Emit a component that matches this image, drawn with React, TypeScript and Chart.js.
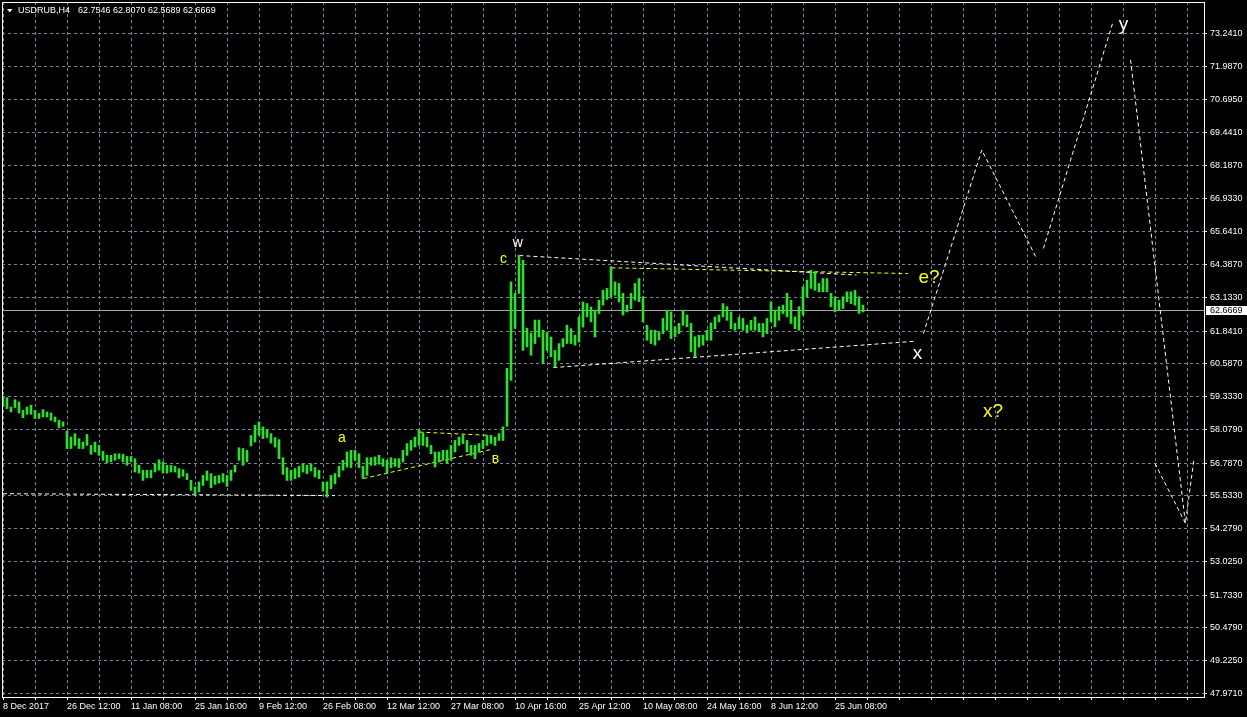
import React, { useEffect, useRef } from "react";
import { Chart, registerables } from "chart.js";

Chart.register(...registerables);

// ---------- data ----------
const symbolName = "USDRUB,H4";
const ohlcText = "62.7546 62.8070 62.5689 62.6669";
const lastClose = 62.6669;

const timeLabels = [
  "8 Dec 2017", "26 Dec 12:00", "11 Jan 08:00", "25 Jan 16:00", "9 Feb 12:00",
  "26 Feb 08:00", "12 Mar 12:00", "27 Mar 08:00", "10 Apr 16:00", "25 Apr 12:00",
  "10 May 08:00", "24 May 16:00", "8 Jun 12:00", "25 Jun 08:00",
];

const priceTicks = [
  73.241, 71.987, 70.695, 69.441, 68.187, 66.933, 65.641, 64.387, 63.133, 61.841,
  60.587, 59.333, 58.079, 56.787, 55.533, 54.279, 53.025, 51.733, 50.479, 49.225, 47.971,
];

const barHighs = [
  59.35, 59.30, 58.94, 59.22, 59.13, 58.81, 58.94, 59.01, 58.81, 58.69,
  58.84, 58.75, 58.71, 58.56, 58.43, 58.37, 58.02, 57.79, 57.92, 57.73,
  57.60, 57.89, 57.47, 57.60, 57.47, 57.24, 57.09, 57.09, 57.15, 57.15,
  57.13, 57.05, 57.05, 56.96, 56.71, 56.52, 56.52, 56.52, 56.77, 56.92,
  56.84, 56.71, 56.71, 56.67, 56.58, 56.54, 56.39, 56.13, 55.88, 56.07,
  56.32, 56.49, 56.39, 56.29, 56.32, 56.39, 56.32, 56.52, 56.71, 57.38,
  57.35, 57.28, 57.85, 58.24, 58.37, 58.18, 58.07, 57.92, 57.77, 57.69,
  57.00, 56.62, 56.52, 56.58, 56.67, 56.77, 56.71, 56.77, 56.62, 56.52,
  56.07, 56.07, 56.32, 56.39, 56.67, 56.90, 57.22, 57.28, 57.28, 57.15,
  56.67, 57.00, 57.00, 57.03, 57.09, 56.96, 56.90, 57.00, 56.96, 56.96,
  57.28, 57.54, 57.66, 57.79, 58.07, 57.95, 57.79, 57.47, 57.22, 57.22,
  57.28, 57.28, 57.47, 57.66, 57.79, 57.86, 57.66, 57.47, 57.47, 57.54,
  57.66, 57.86, 57.86, 57.79, 57.92, 58.18, 60.42, 63.73, 63.29, 64.75,
  64.56, 61.96, 61.77, 62.27, 62.27, 61.88, 61.81, 61.62, 61.11, 61.37,
  61.56, 62.07, 61.94, 61.69, 62.39, 62.96, 62.90, 62.77, 62.65, 63.03,
  63.41, 63.48, 64.31, 63.73, 63.67, 63.29, 62.84, 63.29, 63.67, 63.86,
  63.16, 62.07, 61.88, 61.88, 61.82, 62.33, 62.65, 62.58, 62.01, 62.14,
  62.65, 62.46, 62.14, 61.63, 61.69, 61.69, 61.88, 62.16, 62.39, 62.46,
  62.90, 62.78, 62.58, 62.14, 62.37, 62.33, 62.07, 62.26, 62.39, 62.14,
  62.14, 62.33, 62.97, 62.65, 62.78, 62.84, 63.29, 63.03, 62.39, 62.78,
  63.54, 63.80, 64.18, 64.12, 63.67, 63.86, 63.86, 63.29, 63.16, 63.03,
  63.16, 63.35, 63.35, 63.41, 63.16, 62.84,
];

const barLows = [
  58.97, 58.88, 58.75, 58.92, 58.71, 58.53, 58.66, 58.66, 58.50, 58.50,
  58.56, 58.56, 58.43, 58.37, 58.15, 58.20, 57.35, 57.35, 57.47, 57.35,
  57.35, 57.47, 57.13, 57.22, 57.09, 56.90, 56.80, 56.84, 56.90, 56.96,
  56.84, 56.71, 56.84, 56.45, 56.41, 56.13, 56.23, 56.23, 56.45, 56.52,
  56.41, 56.41, 56.45, 56.45, 56.23, 56.29, 56.16, 55.75, 55.60, 55.69,
  55.94, 56.13, 55.85, 55.98, 56.03, 56.07, 55.90, 56.13, 56.45, 56.90,
  56.71, 56.84, 57.45, 57.60, 57.86, 57.73, 57.77, 57.56, 57.41, 56.96,
  56.36, 56.13, 56.13, 56.20, 56.26, 56.45, 56.39, 56.49, 56.26, 56.20,
  55.72, 55.49, 55.81, 56.00, 56.26, 56.52, 56.64, 56.62, 56.90, 56.62,
  56.20, 56.32, 56.71, 56.71, 56.75, 56.67, 56.41, 56.62, 56.67, 56.62,
  56.83, 57.09, 57.28, 57.41, 57.47, 57.47, 57.41, 57.15, 56.64, 56.83,
  56.90, 56.77, 56.90, 57.22, 57.47, 57.54, 57.22, 57.09, 56.96, 57.22,
  57.35, 57.47, 57.54, 57.47, 57.66, 57.66, 58.20, 59.96, 61.95, 63.29,
  61.11, 61.24, 60.92, 61.37, 61.62, 60.60, 61.11, 60.86, 60.47, 60.73,
  61.24, 61.37, 61.37, 61.31, 61.43, 62.00, 62.39, 62.20, 61.62, 62.52,
  62.84, 63.06, 63.16, 63.22, 62.96, 62.46, 62.58, 62.71, 63.03, 62.97,
  62.20, 61.50, 61.37, 61.31, 61.50, 61.75, 61.88, 61.56, 61.63, 61.75,
  62.07, 62.01, 61.05, 60.86, 61.24, 61.31, 61.50, 61.50, 61.94, 62.20,
  62.39, 62.26, 61.94, 61.88, 61.94, 61.88, 61.78, 61.88, 61.88, 61.82,
  61.63, 61.75, 62.20, 62.01, 62.26, 62.52, 62.39, 62.14, 61.94, 61.88,
  62.46, 63.16, 63.48, 63.41, 63.35, 63.35, 63.35, 62.78, 62.58, 62.65,
  62.71, 62.97, 62.90, 62.84, 62.52, 62.58,
];

// trend / wave lines (x = bar number, y = price)
const supportLine = [{ x: 0, y: 55.62 }, { x: 83, y: 55.55 }];
const wedgeLower = [{ x: 90.1, y: 56.2 }, { x: 122.2, y: 57.32 }];
const wedgeUpper = [{ x: 104.1, y: 57.98 }, { x: 120.9, y: 57.86 }];
const triangleTop = [{ x: 129.1, y: 64.74 }, { x: 213.4, y: 63.99 }];
const eLine = [{ x: 152.1, y: 64.27 }, { x: 226.25, y: 64.05 }];
const triangleBottom = [{ x: 137.6, y: 60.45 }, { x: 228.25, y: 61.46 }];
const projection1 = [{ x: 230.1, y: 61.75 }, { x: 244.7, y: 68.78 }, { x: 258.4, y: 64.63 }];
const projection2 = [{ x: 260.1, y: 65.01 }, { x: 277.4, y: 73.63 }];
const projection3 = [{ x: 281.9, y: 72.23 }, { x: 295.6, y: 54.49 }];
const projection4 = [{ x: 288, y: 56.78 }, { x: 295.6, y: 54.49 }, { x: 297.75, y: 56.96 }];

// wave labels (x = bar number, y = price at text baseline)
const waveText = ["w", "c", "a", "в", "e?", "x", "x?", "y"];
const waveX = [128.7, 125.1, 84.7, 123.1, 231.5, 228.6, 247.5, 280.1];
const waveY = [65.05, 64.46, 57.59, 56.78, 63.68, 60.77, 58.57, 73.37];
const waveKind = ["wMinor", "yMinor", "yMinor", "yMinor", "yMajor", "wMajor", "yMajor", "wMajor"];

// ---------- styles ----------
const FONT = "'Liberation Sans', Arial, sans-serif";
const NARROW = "'Liberation Sans Narrow', 'Arial Narrow', 'Liberation Sans', sans-serif";
const BAR_COLOR = "#32dc32";
const GRID_COLOR = "#778899";
const PRICE_LINE = "#a8a8a8";
const labelStyles: Record<string, { color: string; size: number }> = {
  wMinor: { color: "#ffffff", size: 14 },
  yMinor: { color: "#ffff00", size: 14 },
  wMajor: { color: "#ffffff", size: 19 },
  yMajor: { color: "#ffff00", size: 19 },
};

const X_MIN = -0.25;
const X_MAX = 300.25;
const Y_MIN = 47.837;
const Y_MAX = 74.447;

const lineDs = (pts: { x: number; y: number }[], color: string) => ({
  type: "line" as const,
  data: pts,
  borderColor: color,
  borderWidth: 1,
  borderDash: [4, 3],
  pointRadius: 0,
  fill: false,
  tension: 0,
});

const overlayPlugin = {
  id: "mt4Overlay",
  beforeDatasetsDraw(chart: any) {
    const { ctx, chartArea, scales } = chart;
    const py = Math.round(scales.y.getPixelForValue(lastClose)) + 0.5;
    ctx.save();
    ctx.strokeStyle = PRICE_LINE;
    ctx.lineWidth = 1;
    ctx.beginPath();
    ctx.moveTo(chartArea.left, py);
    ctx.lineTo(chartArea.right, py);
    ctx.stroke();
    ctx.restore();
  },
  afterDatasetsDraw(chart: any) {
    const { ctx, scales } = chart;
    ctx.save();
    ctx.textAlign = "center";
    ctx.textBaseline = "alphabetic";
    waveText.forEach((t, i) => {
      const st = labelStyles[waveKind[i]];
      ctx.fillStyle = st.color;
      ctx.font = `${st.size}px ${NARROW}`;
      ctx.fillText(t, scales.x.getPixelForValue(waveX[i]), scales.y.getPixelForValue(waveY[i]));
    });
    ctx.restore();
  },
  afterDraw(chart: any) {
    const { ctx, chartArea, scales, width } = chart;
    ctx.save();
    // frame left and top
    ctx.strokeStyle = "#ffffff";
    ctx.lineWidth = 1;
    ctx.beginPath();
    ctx.moveTo(chartArea.left + 0.5, chartArea.bottom);
    ctx.lineTo(chartArea.left + 0.5, chartArea.top + 0.5);
    ctx.lineTo(chartArea.right, chartArea.top + 0.5);
    ctx.stroke();
    // header
    ctx.fillStyle = "#ffffff";
    ctx.beginPath();
    ctx.moveTo(7, 9);
    ctx.lineTo(12.5, 9);
    ctx.lineTo(9.75, 12.5);
    ctx.closePath();
    ctx.fill();
    ctx.font = `9px ${FONT}`;
    ctx.textBaseline = "middle";
    ctx.textAlign = "left";
    ctx.fillText(symbolName, 18, 11);
    ctx.fillText(ohlcText, 78, 11);
    // current price box
    const py = Math.round(scales.y.getPixelForValue(lastClose));
    ctx.fillStyle = "#ffffff";
    ctx.fillRect(chartArea.right + 2, py - 4, width - chartArea.right - 2, 9);
    ctx.fillStyle = "#000000";
    ctx.fillText(lastClose.toFixed(4), chartArea.right + 6, py + 0.5);
    ctx.restore();
  },
};

export default function App() {
  const ref = useRef<HTMLCanvasElement | null>(null);

  useEffect(() => {
    if (!ref.current) return;
    const gridValues: number[] = [];
    for (let v = 0; v <= 296; v += 8) gridValues.push(v);

    const chart = new Chart(ref.current, {
      type: "bar",
      data: {
        datasets: [
          {
            type: "bar",
            data: barHighs.map((h, i) => ({ x: i, y: [barLows[i], h] })) as any,
            backgroundColor: BAR_COLOR,
            borderWidth: 0,
            barThickness: 2,
            grouped: false,
          } as any,
          lineDs(supportLine, "#ffffff"),
          lineDs(wedgeLower, "#ffff00"),
          lineDs(wedgeUpper, "#ffff00"),
          lineDs(triangleTop, "#ffffff"),
          lineDs(eLine, "#ffff00"),
          lineDs(triangleBottom, "#ffffff"),
          lineDs(projection1, "#ffffff"),
          lineDs(projection2, "#ffffff"),
          lineDs(projection3, "#ffffff"),
          lineDs(projection4, "#ffffff"),
        ],
      },
      options: {
        responsive: false,
        animation: false,
        events: [],
        layout: { padding: { left: 2, top: 2, right: 0, bottom: 0 } },
        plugins: { legend: { display: false }, tooltip: { enabled: false } },
        scales: {
          x: {
            type: "linear",
            min: X_MIN,
            max: X_MAX,
            offset: false,
            afterBuildTicks: (s: any) => {
              s.ticks = gridValues.map((v) => ({ value: v }));
            },
            afterFit: (s: any) => {
              s.height = 20;
              s.paddingLeft = 0;
              s.paddingRight = 0;
            },
            grid: { color: GRID_COLOR, offset: false, tickColor: "#ffffff", tickLength: 3, lineWidth: 1 },
            border: { color: "#ffffff", dash: [3, 3], width: 1 },
            ticks: {
              color: "#ffffff",
              font: { family: FONT, size: 9 },
              align: "start",
              padding: 1,
              maxRotation: 0,
              autoSkip: false,
              callback: (v: any) => {
                const n = Number(v);
                return n % 16 === 0 && timeLabels[n / 16] ? timeLabels[n / 16] : "";
              },
            },
          },
          y: {
            type: "linear",
            position: "right",
            min: Y_MIN,
            max: Y_MAX,
            afterBuildTicks: (s: any) => {
              s.ticks = priceTicks.map((v) => ({ value: v }));
            },
            afterFit: (s: any) => {
              s.width = 43;
              s.paddingTop = 0;
              s.paddingBottom = 0;
            },
            grid: { color: GRID_COLOR, tickColor: "#ffffff", tickLength: 3, lineWidth: 1 },
            border: { color: "#ffffff", dash: [3, 3], width: 1 },
            ticks: {
              color: "#ffffff",
              font: { family: FONT, size: 9 },
              padding: 3,
              autoSkip: false,
              callback: (v: any) => Number(v).toFixed(4),
            },
          },
        },
      } as any,
      plugins: [overlayPlugin],
    });
    return () => chart.destroy();
  }, []);

  return (
    <div style={{ position: "fixed", left: 0, top: 0, width: 1247, height: 717, background: "#000" }}>
      <canvas ref={ref} width={1247} height={717} style={{ display: "block" }} />
    </div>
  );
}
